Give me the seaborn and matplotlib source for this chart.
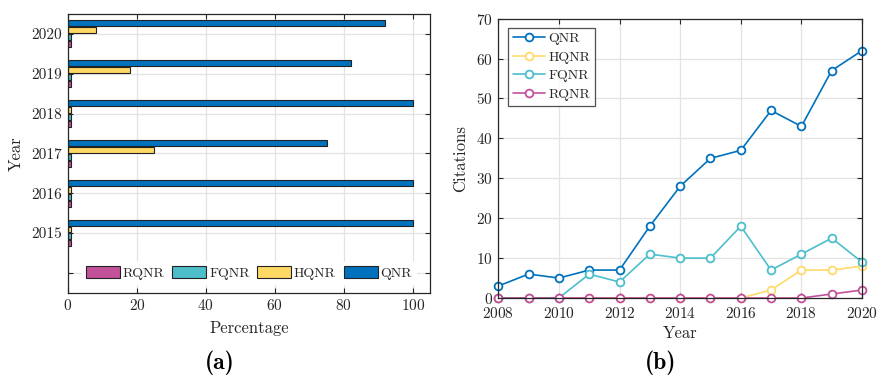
import matplotlib
matplotlib.use("Agg")
import matplotlib.pyplot as plt
from matplotlib.patches import Patch
import seaborn as sns
import pandas as pd

# ---- data -------------------------------------------------------------
methods = ["QNR", "HQNR", "FQNR", "RQNR"]
colors = {"QNR": "#0072BD", "HQNR": "#FFD966", "FQNR": "#4DBECA", "RQNR": "#C2519A"}
line_colors = {"QNR": "#0072BD", "HQNR": "#FFDA6B", "FQNR": "#4DBECC", "RQNR": "#C2519A"}

# share of each method per year (percentage)
share_years = ["2020", "2019", "2018", "2017", "2016", "2015"]
share_qnr = [92, 82, 100, 75, 100, 100]
share_hqnr = [8, 18, 1, 25, 1, 1]
share_fqnr = [1, 1, 1, 1, 1, 1]
share_rqnr = [1, 1, 1, 1, 1, 1]
year_order = share_years + ["2014"]
year_ticklabels = share_years + [""]

# citations per year
cite_years = [2008, 2009, 2010, 2011, 2012, 2013, 2014, 2015, 2016, 2017, 2018, 2019, 2020]
cite_qnr = [3, 6, 5, 7, 7, 18, 28, 35, 37, 47, 43, 57, 62]
cite_hqnr = [0, 0, 0, 0, 0, 0, 0, 0, 0, 2, 7, 7, 8]
cite_fqnr = [0, 0, 0, 6, 4, 11, 10, 10, 18, 7, 11, 15, 9]
cite_rqnr = [0, 0, 0, 0, 0, 0, 0, 0, 0, 0, 0, 1, 2]

share_df = pd.concat([
    pd.DataFrame({"year": share_years, "pct": v, "method": m})
    for m, v in zip(methods, [share_qnr, share_hqnr, share_fqnr, share_rqnr])
], ignore_index=True)
cite_df = pd.concat([
    pd.DataFrame({"year": cite_years, "cit": v, "method": m})
    for m, v in zip(methods, [cite_qnr, cite_hqnr, cite_fqnr, cite_rqnr])
], ignore_index=True)

# ---- style ------------------------------------------------------------
sns.set_theme(style="white")
plt.rcParams["font.family"] = ["cmr10", "DejaVu Serif"]
plt.rcParams["axes.formatter.use_mathtext"] = True
plt.rcParams["mathtext.fontset"] = "cm"
ink = "#262626"
grid_c = "#e3e3e3"


def style_axes(ax, xpad=4):
    for s in ax.spines.values():
        s.set_color(ink)
        s.set_linewidth(0.9)
        s.set_visible(True)
    ax.tick_params(direction="in", length=3.5, width=0.8, color=ink,
                   labelcolor=ink, labelsize=11, top=True, right=True,
                   bottom=True, left=True, pad=4)
    ax.tick_params(axis="x", pad=xpad)
    ax.grid(True, color=grid_c, linewidth=0.9)
    ax.set_axisbelow(True)


fig = plt.figure(figsize=(8.78, 3.79), dpi=100)

# ---- (a) horizontal grouped bars -------------------------------------
ax1 = fig.add_axes([0.0774, 0.2277, 0.4123, 0.7353])
sns.barplot(data=share_df, x="pct", y="year", hue="method", order=year_order,
            hue_order=methods, palette=colors, saturation=1, orient="h",
            width=0.7, gap=0.14, edgecolor="#222222", linewidth=0.8,
            legend=False, ax=ax1)
style_axes(ax1)
ax1.set_xlim(0, 105)
ax1.set_xticks([0, 20, 40, 60, 80, 100])
ax1.set_ylim(6.5, -0.5)
ax1.set_yticks(range(len(year_order)))
ax1.set_yticklabels(year_ticklabels)
ax1.set_xlabel("Percentage", fontsize=12, color=ink, labelpad=5)
ax1.set_ylabel("Year", fontsize=12, color=ink, labelpad=6)

bar_handles = [Patch(facecolor=colors[m], edgecolor="#222222", linewidth=0.8)
               for m in methods][::-1]
leg1 = ax1.legend(bar_handles, methods[::-1], ncol=4, loc="center",
                  bbox_to_anchor=(52.5, 6), bbox_transform=ax1.transData,
                  frameon=True, fontsize=10, handlelength=2.45, handleheight=0.9,
                  handletextpad=0.2, columnspacing=0.55, borderpad=0.3,
                  fancybox=False)
leg1.get_frame().set_edgecolor("white")
leg1.get_frame().set_facecolor("white")
leg1.get_frame().set_alpha(1)
for t in leg1.get_texts():
    t.set_color(ink)

# ---- (b) citations over time -----------------------------------------
ax2 = fig.add_axes([0.5675, 0.2137, 0.4143, 0.7370])
sns.lineplot(data=cite_df, x="year", y="cit", hue="method", hue_order=methods,
             palette=line_colors, marker="o", markersize=5.6,
             markerfacecolor="white", markeredgewidth=1.3, linewidth=1.2,
             legend=False, ax=ax2)
style_axes(ax2, xpad=6)
ax2.set_xlim(2008, 2020)
ax2.set_ylim(0, 70)
ax2.set_xticks(range(2008, 2021, 2))
ax2.set_yticks(range(0, 71, 10))
ax2.set_xlabel("Year", fontsize=12, color=ink, labelpad=3)
ax2.set_ylabel("Citations", fontsize=12, color=ink, labelpad=6)
for ln in ax2.get_lines():
    ln.set_clip_on(False)
    ln.set_markeredgecolor(ln.get_color())
    ln.set_markerfacecolor("white")
    ln.set_linestyle("-")

leg2 = ax2.legend(ax2.get_lines()[:4], methods, loc="upper left",
                  bbox_to_anchor=(0.026, 0.968), borderaxespad=0,
                  fontsize=10, frameon=True, fancybox=False, handlelength=2.3,
                  handletextpad=0.3, borderpad=0.35, labelspacing=0.42)
leg2.get_frame().set_edgecolor(ink)
leg2.get_frame().set_linewidth(0.9)
for t in leg2.get_texts():
    t.set_color(ink)

# ---- panel captions ---------------------------------------------------
fig.text(0.2506, 0.042, "(a)", ha="center", va="center", fontsize=17,
         family=["cmb10", "DejaVu Serif"], color="black")
fig.text(0.7528, 0.042, "(b)", ha="center", va="center", fontsize=17,
         family=["cmb10", "DejaVu Serif"], color="black")

fig.savefig("out.png", dpi=100)
